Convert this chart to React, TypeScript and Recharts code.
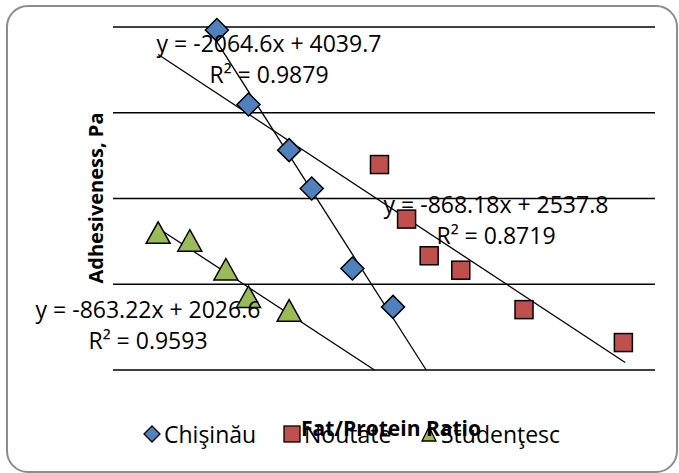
// Adhesiveness vs Fat/Protein ratio – scatter + linear trendlines (Excel look)

import { ScatterChart, Scatter, XAxis, YAxis, CartesianGrid, ReferenceLine } from 'recharts';

// Chişinău
const chisinauX = [1.13, 1.2, 1.29, 1.34, 1.43, 1.52];
const chisinauY = [1741, 1524, 1391, 1279, 1046, 934];
// Noutate
const noutateX = [1.49, 1.55, 1.6, 1.67, 1.81, 2.03];
const noutateY = [1349, 1190, 1083, 1041, 926, 830];
// Studenţesc
const studentescX = [1.0, 1.07, 1.15, 1.2, 1.29];
const studentescY = [1150, 1127, 1043, 963, 923];

const seriesNames = ['Chişinău', 'Noutate', 'Studenţesc'];
const slopes = [-2064.6, -868.18, -863.22];
const intercepts = [4039.7, 2537.8, 2026.6];
const rSquared = ['0.9879', '0.8719', '0.9593'];
// trendline x-range (with forecast), clipped at the axis minimum
const trendFrom = [1.13, 1.0, 1.0];
const trendTo = [1.7, 2.034, 1.7];

const xDomain = [0.9, 2.1];
const yTicks = [750, 1000, 1250, 1500, 1750];

const FONT = "'Open Sans', sans-serif";
const COLORS = ['#4f81bd', '#c0504d', '#9bbb59'];

const zip = (xs: number[], ys: number[]) => xs.map((x, i) => ({ x, y: ys[i] }));
const seriesData = [zip(chisinauX, chisinauY), zip(noutateX, noutateY), zip(studentescX, studentescY)];

const Diamond = ({ cx, cy }: any) => (
  <path d={`M${cx},${cy - 11.5} L${cx + 11.5},${cy} L${cx},${cy + 11.5} L${cx - 11.5},${cy} Z`}
    fill={COLORS[0]} stroke="#000" strokeWidth={1.5} />
);
const Square = ({ cx, cy }: any) => (
  <rect x={cx - 9} y={cy - 9} width={18} height={18} fill={COLORS[1]} stroke="#000" strokeWidth={1.5} />
);
const Triangle = ({ cx, cy }: any) => (
  <path d={`M${cx},${cy - 11} L${cx + 12},${cy + 10.5} L${cx - 12},${cy + 10.5} Z`}
    fill={COLORS[2]} stroke="#000" strokeWidth={1.5} />
);
const shapes = [Diamond, Square, Triangle];

// trendline labels: centre x, baseline y of equation line and R² line
const labelPos = [
  { x: 269, y1: 52, y2: 83 },
  { x: 496, y1: 213, y2: 244 },
  { x: 148, y1: 318, y2: 349 },
];

function LegendIcon({ i }: { i: number }) {
  return (
    <svg width={18} height={20} style={{ display: 'block' }}>
      {i === 0 && <path d="M9,2 L17,10 L9,18 L1,10 Z" fill={COLORS[0]} stroke="#000" strokeWidth={1.3} />}
      {i === 1 && <rect x={1} y={2} width={16} height={16} fill={COLORS[1]} stroke="#000" strokeWidth={1.3} />}
      {i === 2 && <path d="M9,3 L16,17 L2,17 Z" fill={COLORS[2]} stroke="#000" strokeWidth={1.3} />}
    </svg>
  );
}

const legendLeft = [143, 283, 420];

export default function App() {
  const yMin = yTicks[0];
  const trends = slopes.map((m, i) => {
    const x0 = trendFrom[i];
    const x1 = Math.min(trendTo[i], (yMin - intercepts[i]) / m);
    return [
      { x: x0, y: m * x0 + intercepts[i] },
      { x: x1, y: m * x1 + intercepts[i] },
    ];
  });

  return (
    <div style={{ position: 'absolute', left: 0, top: 0, width: 679, height: 473, background: '#fff', fontFamily: FONT }}>
      <div style={{
        position: 'absolute', left: 6, top: 5, width: 672, height: 468, boxSizing: 'border-box',
        border: '2px solid #8c8c8c', borderRadius: 22,
      }} />
      <div style={{ position: 'absolute', left: 0, top: 0 }}>
        <ScatterChart width={679} height={473} margin={{ top: 27, right: 24, bottom: 103, left: 113 }}>
          <CartesianGrid horizontal vertical={false} stroke="#000" strokeWidth={1.5} />
          <XAxis type="number" dataKey="x" domain={xDomain} hide />
          <YAxis type="number" dataKey="y" domain={[yTicks[0], yTicks[yTicks.length - 1]]} ticks={yTicks} hide />
          {seriesData.map((d, i) => (
            <Scatter key={seriesNames[i]} name={seriesNames[i]} data={d} shape={shapes[i]} isAnimationActive={false} />
          ))}
          {trends.map((seg, i) => (
            <ReferenceLine key={'t' + i} segment={seg} stroke="#000" strokeWidth={1.3} ifOverflow="visible" />
          ))}
        </ScatterChart>
      </div>

      <svg width={679} height={473} style={{ position: 'absolute', left: 0, top: 0, pointerEvents: 'none' }}>
        {labelPos.map((p, i) => (
          <g key={i} fontFamily={FONT} fontSize={23} fill="#000" textAnchor="middle">
            <text x={p.x} y={p.y1}>{`y = ${slopes[i]}x + ${intercepts[i]}`}</text>
            <text x={p.x} y={p.y2}>{`R² = ${rSquared[i]}`}</text>
          </g>
        ))}
        <text x={95} y={198} transform="rotate(-90, 95, 198)" textAnchor="middle" dominantBaseline="central"
          fontFamily={FONT} fontSize={20} fontWeight="bold" fill="#000">Adhesiveness, Pa</text>
      </svg>

      {seriesNames.map((n, i) => (
        <div key={n} style={{
          position: 'absolute', left: legendLeft[i], top: 419, display: 'flex', alignItems: 'center',
          fontSize: 23, lineHeight: '30px', color: '#000',
        }}>
          <LegendIcon i={i} />
          <span style={{ marginLeft: 3 }}>{n}</span>
        </div>
      ))}
      <svg width={679} height={473} style={{ position: 'absolute', left: 0, top: 0, pointerEvents: 'none' }}>
        <text x={391} y={436} textAnchor="middle" fontFamily={FONT} fontSize={21} fontWeight="bold" fill="#000">
          Fat/Protein Ratio
        </text>
      </svg>
    </div>
  );
}
